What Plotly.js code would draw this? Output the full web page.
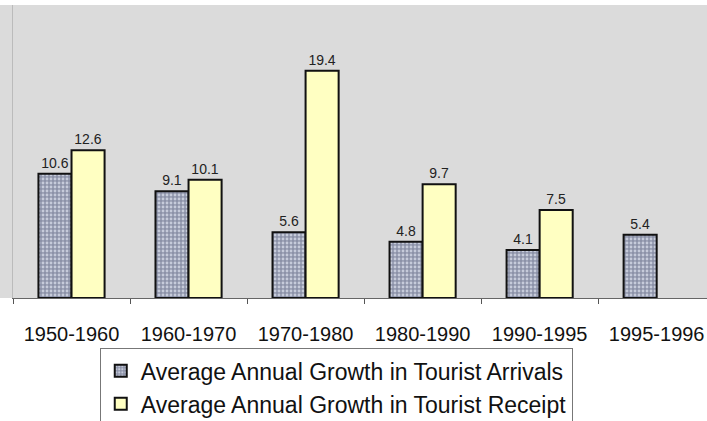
<!DOCTYPE html>
<html>
<head>
<meta charset="utf-8">
<script src="https://cdn.plot.ly/plotly-3.0.1.min.js"></script>
<style>html,body{margin:0;padding:0;background:#fff;}#chart{width:707px;height:421px;}</style>
</head>
<body>
<div id="chart"></div>
<script>
const periods = ["1950-1960", "1960-1970", "1970-1980", "1980-1990", "1990-1995", "1995-1996"];
const arrivals = [10.6, 9.1, 5.6, 4.8, 4.1, 5.4];
const receipts = [12.6, 10.1, 19.4, 9.7, 7.5, null];
const seriesNames = ["Average Annual Growth in Tourist Arrivals", "Average Annual Growth in Tourist Receipt"];

const fmt = v => (v === null ? "" : v.toFixed(1));

const traces = [
  {
    type: "bar", x: periods, y: arrivals, name: seriesNames[0],
    text: arrivals.map(fmt), textposition: "outside", cliponaxis: false,
    textfont: {family: "Liberation Sans, Arial, sans-serif", size: 14, color: "#222"},
    marker: {
      color: "#9399ae",
      line: {color: "#111", width: 2},
      pattern: {shape: ".", fgcolor: "#c6cbda", bgcolor: "#8c92a8", size: 4, solidity: 0.4}
    }
  },
  {
    type: "bar", x: periods, y: receipts, name: seriesNames[1],
    text: receipts.map(fmt), textposition: "outside", cliponaxis: false,
    textfont: {family: "Liberation Sans, Arial, sans-serif", size: 14, color: "#222"},
    marker: {color: "#ffffc2", line: {color: "#111", width: 2}}
  }
];

const layout = {
  width: 707, height: 421,
  margin: {l: 13, r: 0, t: 5, b: 123, autoexpand: false},
  paper_bgcolor: "#ffffff",
  plot_bgcolor: "#dbdbdb",
  barmode: "group",
  bargap: 0.435,
  bargroupgap: 0,
  showlegend: true,
  font: {family: "Liberation Sans, Arial, sans-serif", color: "#000"},
  xaxis: {
    type: "category",
    automargin: false,
    range: [-0.5, 5.43],
    tickson: "boundaries",
    ticks: "outside", ticklen: 5, tickcolor: "#555", tickwidth: 1,
    showline: true, linecolor: "#666", linewidth: 1,
    showgrid: false,
    tickfont: {size: 20, color: "#111"},
    ticklabelstandoff: 18
  },
  yaxis: {
    automargin: false,
    range: [0, 25],
    showticklabels: false, showgrid: false, zeroline: false,
    showline: true, linecolor: "#bbb", linewidth: 1, ticks: ""
  },
  legend: {
    orientation: "v",
    x: 0.125, xanchor: "left",
    y: -0.172, yanchor: "top",
    bgcolor: "#ffffff",
    bordercolor: "#777", borderwidth: 1,
    font: {size: 23, color: "#111"},
    tracegroupgap: 0
  },
  shapes: [
    {type: "rect", xref: "paper", yref: "paper", x0: -0.02, x1: 0, y0: 0, y1: 1,
     fillcolor: "#dbdbdb", line: {width: 0}, layer: "below"}
  ]
};

Plotly.newPlot("chart", traces, layout, {displayModeBar: false, staticPlot: true});
</script>
</body>
</html>
